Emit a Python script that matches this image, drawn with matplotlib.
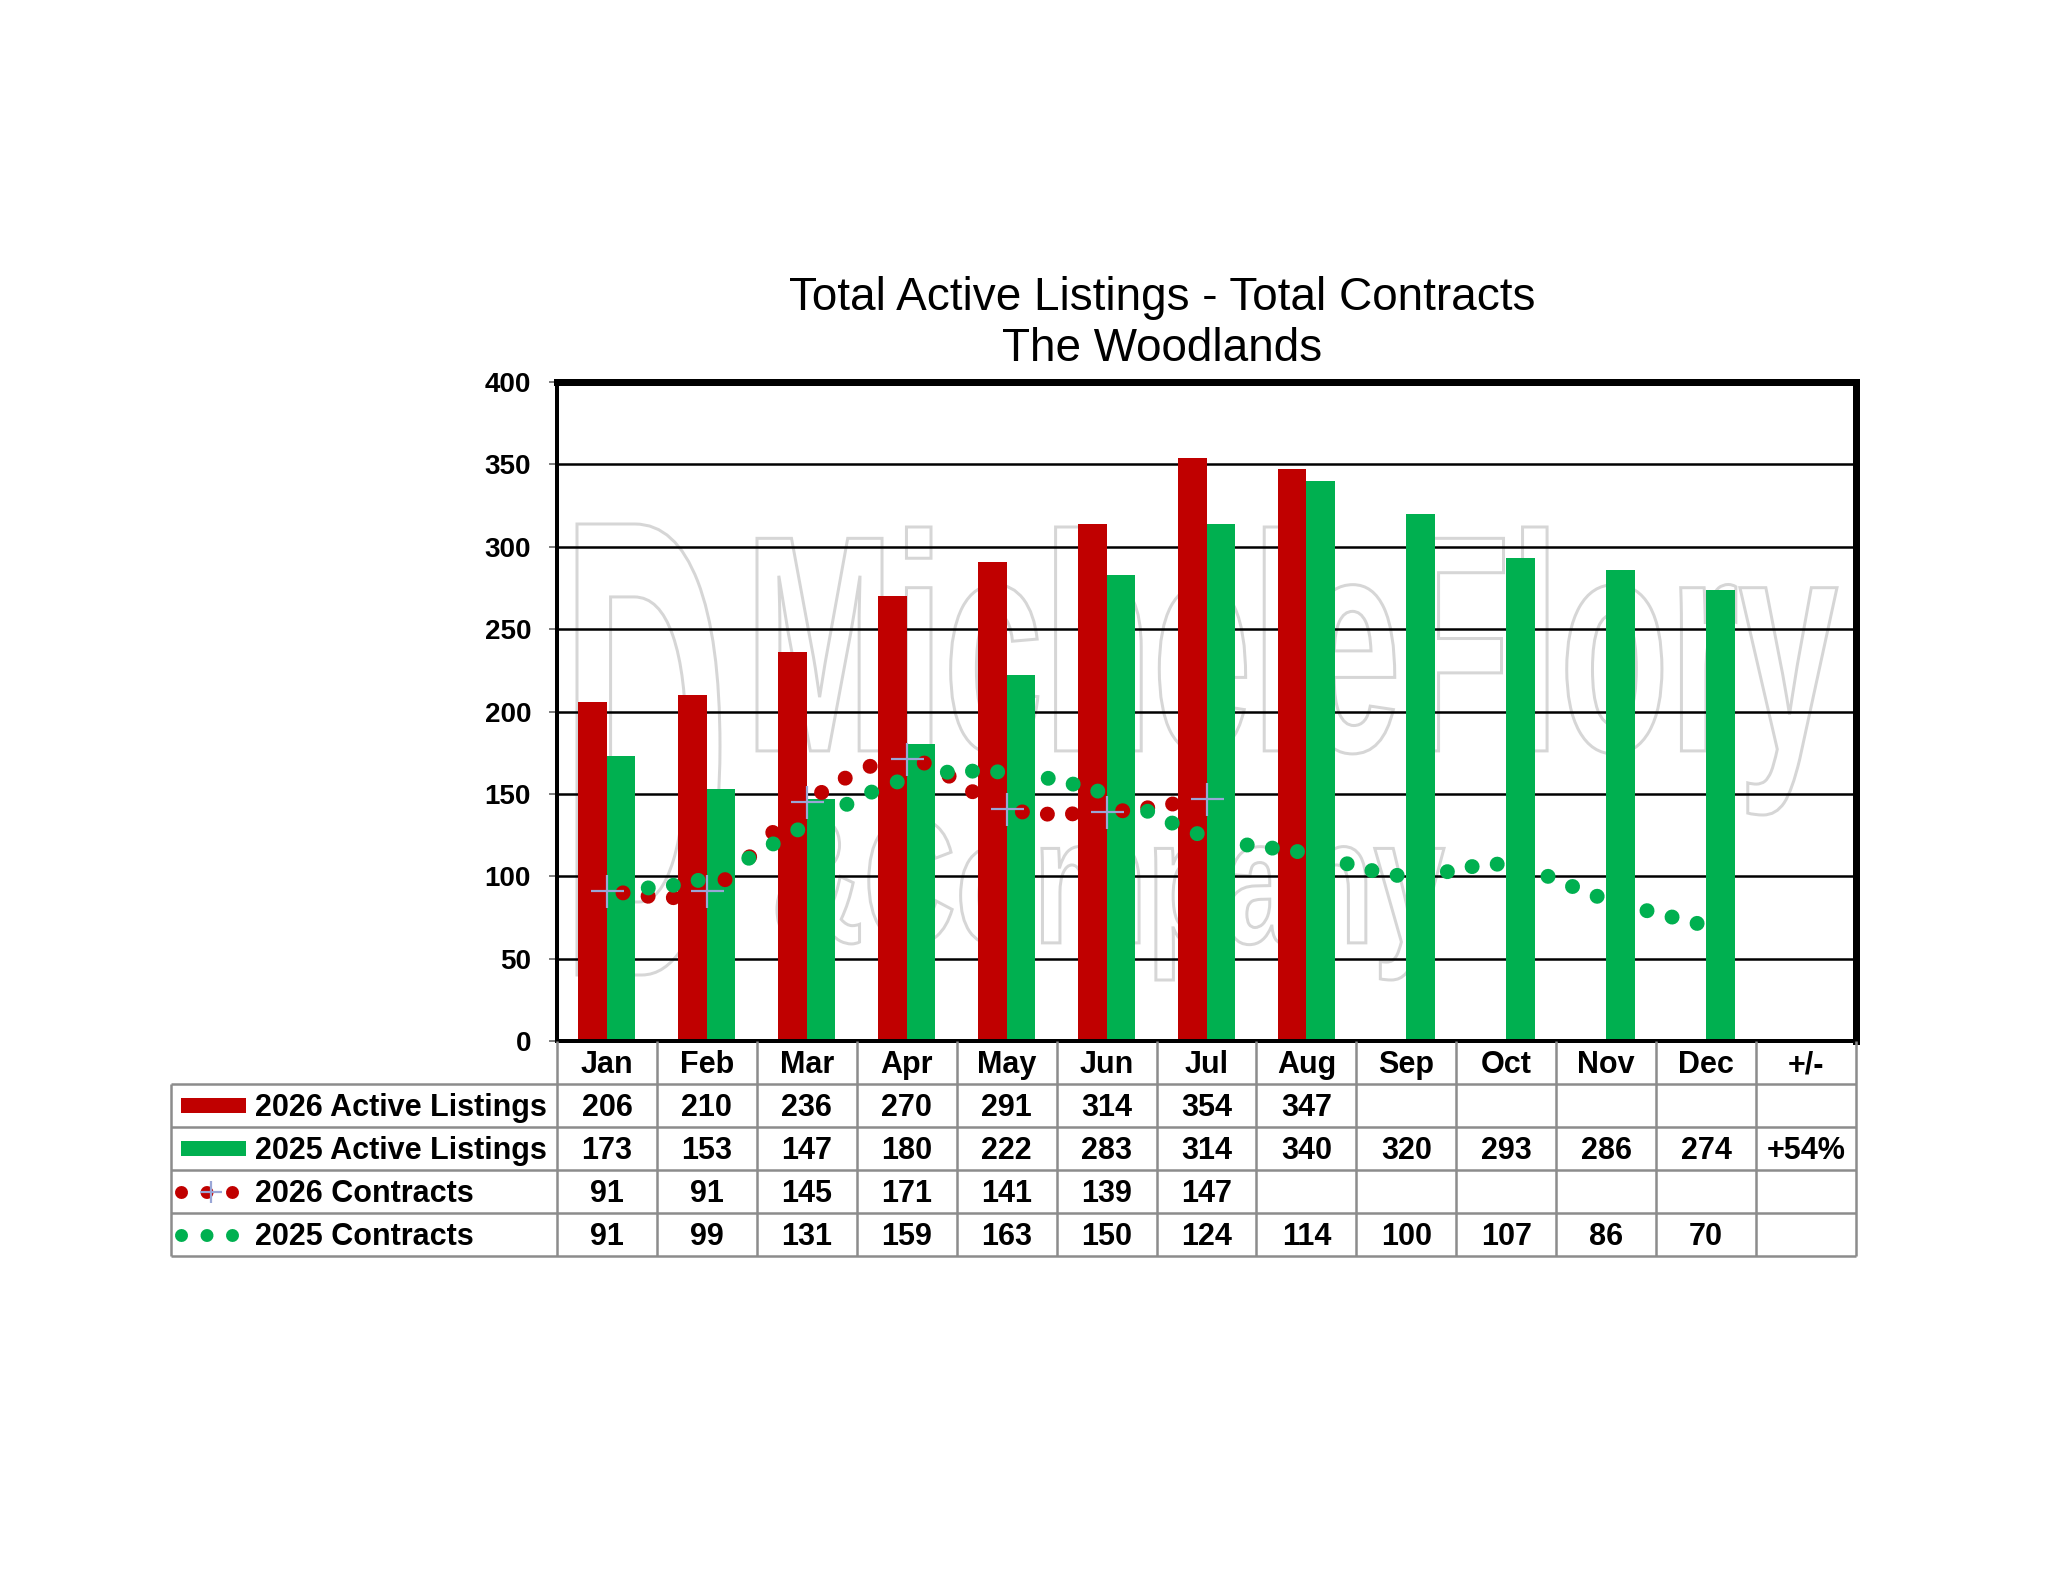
import numpy as np
import matplotlib
matplotlib.use('Agg')
import matplotlib.pyplot as plt
from matplotlib.path import Path
from matplotlib.patches import PathPatch, Rectangle
from matplotlib.textpath import TextPath
from matplotlib.font_manager import FontProperties
from matplotlib.transforms import Affine2D, IdentityTransform

plt.rcParams['font.family'] = ['Liberation Sans', 'DejaVu Sans']
plt.rcParams['lines.scale_dashes'] = False

# --- data ---
months = ['Jan', 'Feb', 'Mar', 'Apr', 'May', 'Jun', 'Jul', 'Aug', 'Sep', 'Oct', 'Nov', 'Dec']
change_header = '+/-'
active_2026 = [206, 210, 236, 270, 291, 314, 354, 347]
active_2025 = [173, 153, 147, 180, 222, 283, 314, 340, 320, 293, 286, 274]
contracts_2026 = [91, 91, 145, 171, 141, 139, 147]
contracts_2025 = [91, 99, 131, 159, 163, 150, 124, 114, 100, 107, 86, 70]
active_2025_change = '+54%'
series_labels = ['2026 Active Listings', '2025 Active Listings', '2026 Contracts', '2025 Contracts']
y_ticks = [0, 50, 100, 150, 200, 250, 300, 350, 400]
title_lines = ['Total Active Listings - Total Contracts', 'The Woodlands']

RED = '#C00000'
GREEN = '#00B050'
CROSS = '#9AA6D6'
TABLE_GRAY = '#8C8C8C'
WATERMARK = '#D6D6D6'

W, H = 2048, 1583
DPI = 100
DOT = 15  # dot diameter, px


def px(v):
    # pixels -> points
    return v * 72.0 / DPI


fig = plt.figure(figsize=(W / DPI, H / DPI), dpi=DPI, facecolor='white')

# plot area in image pixels
PL, PR, PT, PB = 557, 1856, 382, 1041
ax = fig.add_axes([PL / W, 1 - PB / H, (PR - PL) / W, (PB - PT) / H])
ax.set_facecolor('none')
ncol = len(months) + 1
ax.set_xlim(-0.5, ncol - 0.5)
ax.set_ylim(y_ticks[0], y_ticks[-1])

bw = 0.285
x26 = np.arange(len(active_2026))
x25 = np.arange(len(active_2025))
ax.bar(x26 - bw / 2, active_2026, width=bw, color=RED, zorder=2)
ax.bar(x25 + bw / 2, active_2025, width=bw, color=GREEN, zorder=2)

ax.set_axisbelow(True)
ax.yaxis.grid(True, color='black', linewidth=px(2.5))
ax.set_xticks([])
ax.set_yticks(y_ticks)
ax.set_yticklabels([str(v) for v in y_ticks], fontsize=20, fontweight='bold')
ax.tick_params(axis='y', direction='out', length=px(8), width=px(2),
               color='#808080', pad=px(18))
for side in ['top', 'right']:
    ax.spines[side].set_linewidth(px(7))
for side in ['left', 'bottom']:
    ax.spines[side].set_linewidth(px(4))
for s in ax.spines.values():
    s.set_color('black')


# --- smoothed dotted contract lines (Excel style) ---
def smooth_segments(xs, ys):
    pts = np.column_stack([xs, ys]).astype(float)
    n = len(pts)
    segs = []
    for i in range(n - 1):
        p0 = pts[max(i - 1, 0)]
        p1 = pts[i]
        p2 = pts[i + 1]
        p3 = pts[min(i + 2, n - 1)]
        segs.append(np.array([p1, p1 + (p2 - p0) / 6, p2 - (p3 - p1) / 6, p2]))
    return segs


def draw_dotted_curve(ax, xs, ys, color, start_frac, z):
    for seg in smooth_segments(xs, ys):
        d = ax.transData.transform(seg)
        t = np.linspace(0, 1, 80)[:, None]
        c = ((1 - t) ** 3 * d[0] + 3 * (1 - t) ** 2 * t * d[1]
             + 3 * (1 - t) * t ** 2 * d[2] + t ** 3 * d[3])
        length = px(np.hypot(*np.diff(c, axis=0).T).sum())
        gap = length / 4
        dot = 0.01
        pattern = (dot, gap - dot, dot, gap - dot, dot, 2000)
        period = sum(pattern)
        offset = period - start_frac * length
        path = Path(seg, [Path.MOVETO, Path.CURVE4, Path.CURVE4, Path.CURVE4])
        ax.add_patch(PathPatch(path, fill=False, edgecolor=color, linewidth=px(DOT),
                               linestyle=(offset, pattern), capstyle='round',
                               zorder=z, clip_on=False))


draw_dotted_curve(ax, np.arange(len(contracts_2026)), contracts_2026, RED, 0.16, 3)
draw_dotted_curve(ax, np.arange(len(contracts_2025)), contracts_2025, GREEN, 0.41, 4)
ax.plot(np.arange(len(contracts_2026)), contracts_2026, linestyle='none', marker='+',
        markersize=px(33), markeredgewidth=px(2.2), color=CROSS, zorder=6)

# --- title ---
fig.text(1162 / W, 1 - 310 / H, title_lines[0], ha='center', va='baseline', fontsize=33)
fig.text(1162 / W, 1 - 361 / H, title_lines[1], ha='center', va='baseline', fontsize=33)

# --- data table below the plot ---
TL, TB = 171, 1256
tax = fig.add_axes([TL / W, 1 - TB / H, (PR - TL) / W, (TB - PB) / H])
col_w = (PR - PL) / ncol
x_left = -0.5 - (PL - TL) / col_w
tax.set_xlim(x_left, ncol - 0.5)
tax.set_ylim(5, 0)
tax.axis('off')

line_kw = dict(color=TABLE_GRAY, linewidth=px(2.5), clip_on=False)
tax.hlines([1, 2, 3, 4, 5], x_left, ncol - 0.5, **line_kw)
tax.vlines([x_left], 1, 5, **line_kw)
tax.vlines(np.arange(ncol + 1) - 0.5, 0, 5, **line_kw)

cap = 0.25
txt_kw = dict(ha='center', va='baseline', fontsize=22, fontweight='bold')
for i, m in enumerate(months + [change_header]):
    tax.text(i, 0.5 + cap, m, **txt_kw)

rows = [active_2026, active_2025, contracts_2026, contracts_2025]
for r, vals in enumerate(rows):
    for i, v in enumerate(vals):
        tax.text(i, r + 1.5 + cap, str(v), **txt_kw)
tax.text(len(months), 2.5 + cap, active_2025_change, **txt_kw)

# legend keys + labels
key_x0 = x_left + 10 / col_w
key_w = 65 / col_w
key_h = 15 / 43
for r, col in [(0, RED), (1, GREEN)]:
    tax.add_patch(Rectangle((key_x0, r + 1.5 - key_h / 2), key_w, key_h,
                            facecolor=col, edgecolor='none', clip_on=False))
dot_span = 52 / col_w
for r, col in [(2, RED), (3, GREEN)]:
    tax.plot([key_x0, key_x0 + dot_span], [r + 1.5, r + 1.5], color=col,
             linewidth=px(13), linestyle=(0, (0.01, px(25.5) - 0.01)),
             dash_capstyle='round', clip_on=False)
tax.plot([key_x0 + dot_span / 2 + 4 / col_w], [3.5], linestyle='none', marker='+',
         markersize=px(22), markeredgewidth=px(2.2), color=CROSS, clip_on=False)
for r, lab in enumerate(series_labels):
    tax.text(x_left + 84 / col_w, r + 1.5 + cap, lab, ha='left', va='baseline',
             fontsize=22, fontweight='bold')


# --- faint outlined watermark behind the plot ---
def watermark(text, x0, x1, top, bottom):
    fp = FontProperties(family='Liberation Sans', weight='bold')
    tp = TextPath((0, 0), text, size=100, prop=fp)
    bb = tp.get_extents()
    tr = (Affine2D().translate(-bb.x0, -bb.y0)
          .scale((x1 - x0) / bb.width, (bottom - top) / bb.height)
          .translate(x0, H - bottom))
    fig.add_artist(PathPatch(tr.transform_path(tp), facecolor='none', edgecolor=WATERMARK,
                             linewidth=px(3), transform=IdentityTransform(), zorder=-1))


watermark('D', 577, 720, 524, 975)
watermark('MicheleFlory', 757, 1837, 527, 815)
watermark('&Company', 777, 1444, 818, 980)

fig.savefig('out.png', dpi=DPI, facecolor='white')
